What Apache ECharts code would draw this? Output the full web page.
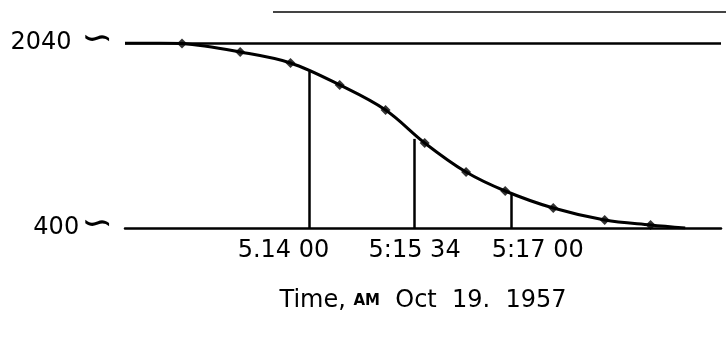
<!DOCTYPE html>
<html>
<head>
<meta charset="utf-8">
<script src="https://cdn.jsdelivr.net/npm/echarts@6/dist/echarts.min.js"></script>
<style>
html,body{margin:0;padding:0;background:#fff;}
#chart{width:726px;height:339px;}
</style>
</head>
<body>
<div id="chart"></div>
<script>
// time in seconds after 5:00:00 AM; value in axis units (broken axis 400–2040)
var curveTimes  = [675, 706, 726, 778, 823, 867, 908, 943, 980, 1015, 1058, 1104, 1145, 1176];
var curveValues = [2040, 2040, 2035, 1960, 1863, 1668, 1446, 1154, 896, 728, 577, 471, 427, 400];
var dotTimes  = [726, 778, 823, 867, 908, 943, 980, 1015, 1058, 1104, 1145];
var dotValues = [2035, 1960, 1863, 1668, 1446, 1154, 896, 728, 577, 471, 427];
var markTimes  = [840, 934, 1020];
var markTops   = [1790, 1190, 700];
var tickTimes  = [840, 934, 1020];
var tickLabels = ['5.14 00', '5:15 34', '5:17 00'];
var yTickValues = [400, 2040];
var yTickLabels = ['400', '2040 '];
var breakMark = '∽';
var refLevel = 2040;

var FONT = 'DejaVu Sans';
var FS = 24;
var chart = echarts.init(document.getElementById('chart'), null, {renderer: 'canvas'});

var curve = curveTimes.map(function (t, i) { return [t, curveValues[i]]; });
var dots = dotTimes.map(function (t, i) { return [t, dotValues[i]]; });
var vLines = markTimes.map(function (t, i) {
  return [{coord: [t, 400]}, {coord: [t, markTops[i]]}];
});
vLines.push({yAxis: refLevel, lineStyle: {width: 2.5}});

chart.setOption({
  animation: false,
  backgroundColor: '#fff',
  grid: {left: 125, right: 5, top: 43, bottom: 111, containLabel: false, outerBoundsMode: 'none'},
  xAxis: {
    type: 'value', min: 675, max: 1208,
    axisLine: {show: true, lineStyle: {color: '#000', width: 2.5}},
    axisTick: {show: false},
    splitLine: {show: false},
    axisLabel: {
      customValues: tickTimes,
      margin: 11,
      color: '#000',
      fontFamily: FONT,
      fontSize: FS,
      formatter: function (v) {
        var i = tickTimes.indexOf(v);
        var s = i >= 0 ? tickLabels[i] : '';
        if (i === 0) return '{l|' + s + '}';
        if (i === 2) return '{r|' + s + '}';
        return '{c|' + s + '}';
      },
      rich: {
        l: {fontFamily: FONT, fontSize: FS, color: '#000', padding: [0, 52, 0, 0]},
        c: {fontFamily: FONT, fontSize: FS, color: '#000'},
        r: {fontFamily: FONT, fontSize: FS, color: '#000', padding: [0, 0, 0, 54]}
      }
    },
    name: '{a|Time, }{sc|AM}{a|  Oct  19.  1957}',
    nameLocation: 'middle',
    nameGap: 61,
    nameTextStyle: {
      rich: {
        a: {fontFamily: FONT, fontSize: FS, color: '#000'},
        sc: {fontFamily: FONT, fontSize: 15, color: '#000', fontWeight: 'bold'}
      }
    }
  },
  yAxis: {
    type: 'value', min: 400, max: 2040,
    axisLine: {show: false},
    axisTick: {show: false},
    splitLine: {show: false},
    axisLabel: {
      customValues: yTickValues,
      margin: 12,
      color: '#000',
      fontFamily: FONT,
      fontSize: FS,
      formatter: function (v) {
        var i = yTickValues.indexOf(v);
        return i >= 0 ? '{n|' + yTickLabels[i] + '}{b|' + breakMark + '}' : '';
      },
      rich: {
        n: {fontFamily: FONT, fontSize: FS, color: '#000'},
        b: {fontFamily: FONT, fontSize: 38, color: '#000', lineHeight: 30, padding: [0, 0, 6, 2]}
      }
    }
  },
  graphic: [{
    type: 'line',
    shape: {x1: 273, y1: 12, x2: 726, y2: 12},
    style: {stroke: '#444', lineWidth: 2}
  }],
  series: [{
    type: 'line',
    data: curve,
    smooth: 0.35,
    showSymbol: false,
    lineStyle: {color: '#000', width: 3},
    markLine: {
      silent: true,
      symbol: 'none',
      label: {show: false},
      lineStyle: {color: '#000', width: 2.5, type: 'solid'},
      data: vLines
    }
  }, {
    type: 'scatter',
    data: dots,
    symbol: 'diamond',
    symbolSize: 10,
    itemStyle: {color: '#000'}
  }]
});
</script>
</body>
</html>
